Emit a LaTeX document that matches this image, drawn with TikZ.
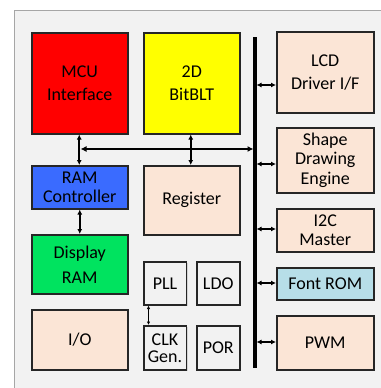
\documentclass[tikz,border=0pt]{standalone}
\usepackage{fontspec}
\setmainfont{Carlito}
\usetikzlibrary{arrows.meta,shadows}
\definecolor{bgf}{HTML}{F2F2F2}
\definecolor{peach}{HTML}{FBE5D6}
\definecolor{mcured}{HTML}{FF0000}
\definecolor{bltyel}{HTML}{FFFF00}
\definecolor{ramblue}{HTML}{3A6BFF}
\definecolor{ramgreen}{HTML}{00E35F}
\definecolor{romblue}{HTML}{B7DEE8}
\tikzset{
  blk/.style={draw=black!85, line width=1.5pt, align=center, inner sep=0pt,
    drop shadow={shadow xshift=1.5pt, shadow yshift=-1.5pt, opacity=0.25}},
  lbl/.style={align=center, inner sep=0pt},
  dbl/.style={{Latex[length=5pt,width=5pt]}-{Latex[length=5pt,width=5pt]}, line width=1.6pt},
  sdbl/.style={{Latex[length=3.5pt,width=3.5pt]}-{Latex[length=3.5pt,width=3.5pt]}, line width=0.9pt}
}
\begin{document}
\begin{tikzpicture}[x=1pt,y=-1pt]
\useasboundingbox (0,0) rectangle (380,388);
\fill[white] (0,0) rectangle (380,388);
\draw[gray!70, fill=bgf, line width=1pt] (14,10) rectangle (400,410);
% boxes
\node[blk, fill=mcured, minimum width=96pt, minimum height=101pt, anchor=north west] (mcu) at (31,32) {};
\node[lbl, font=\fontsize{18}{23}\selectfont] (mcut) at (mcu.center) {MCU\\Interface};
\node[blk, fill=bltyel, minimum width=96pt, minimum height=101pt, anchor=north west] (blt) at (143,32) {};
\node[lbl, font=\fontsize{18}{23}\selectfont] (bltt) at (blt.center) {2D\\BitBLT};
\node[blk, fill=ramblue, minimum width=96pt, minimum height=43pt, anchor=north west] (ramc) at (31,165) {};
\node[lbl, font=\fontsize{18}{19}\selectfont] (ramct) at (ramc.center) {RAM\\Controller};
\node[blk, fill=peach, minimum width=96pt, minimum height=69pt, anchor=north west] (reg) at (143,165) {};
\node[lbl, font=\fontsize{18}{22}\selectfont] (regt) at (reg.center) {Register};
\node[blk, fill=ramgreen, minimum width=96pt, minimum height=59pt, anchor=north west] (dram) at (31,234) {};
\node[lbl, font=\fontsize{18}{25}\selectfont] (dramt) at (dram.center) {Display\\RAM};
\node[blk, fill=peach, minimum width=96pt, minimum height=60pt, anchor=north west] (io) at (31,309) {};
\node[lbl, font=\fontsize{18}{22}\selectfont] (iot) at (io.center) {I/O};
\node[blk, fill=bgf, minimum width=42.5pt, minimum height=43pt, anchor=north west] (pll) at (143,261) {};
\node[lbl, font=\fontsize{18}{22}\selectfont] (pllt) at (pll.center) {PLL};
\node[blk, fill=bgf, minimum width=42.5pt, minimum height=44pt, anchor=north west] (clk) at (143,325) {};
\node[lbl, font=\fontsize{18}{17}\selectfont] (clkt) at (clk.center) {CLK\\Gen.};
\node[blk, fill=bgf, minimum width=43pt, minimum height=43pt, anchor=north west] (ldo) at (196,261) {};
\node[lbl, font=\fontsize{18}{22}\selectfont] (ldot) at (ldo.center) {LDO};
\node[blk, fill=bgf, minimum width=43pt, minimum height=44pt, anchor=north west] (por) at (196,325) {};
\node[lbl, font=\fontsize{18}{22}\selectfont] (port) at (por.center) {POR};
\node[blk, fill=peach, minimum width=97pt, minimum height=81pt, anchor=north west] (lcd) at (276,31) {};
\node[lbl, font=\fontsize{18}{23}\selectfont] (lcdt) at (lcd.center) {LCD\\Driver I/F};
\node[blk, fill=peach, minimum width=97pt, minimum height=65pt, anchor=north west] (shape) at (276,127) {};
\node[lbl, font=\fontsize{18}{19.5}\selectfont] (shapet) at (shape.center) {Shape\\Drawing\\Engine};
\node[blk, fill=peach, minimum width=97pt, minimum height=43pt, anchor=north west] (i2c) at (276,208) {};
\node[lbl, font=\fontsize{18}{19}\selectfont] (i2ct) at (i2c.center) {I2C\\Master};
\node[blk, fill=romblue, minimum width=97pt, minimum height=32pt, anchor=north west] (rom) at (276,267) {};
\node[lbl, font=\fontsize{18}{22}\selectfont] (romt) at (rom.center) {Font ROM};
\node[blk, fill=peach, minimum width=97pt, minimum height=54pt, anchor=north west] (pwm) at (276,315) {};
\node[lbl, font=\fontsize{18}{22}\selectfont] (pwmt) at (pwm.center) {PWM};
% bus
\coordinate (bt) at (255,37);
\coordinate (bb) at (255,368);
\draw[line width=3.2pt] (bt) -- (bb);
% vertical connectors
\draw[dbl] ([xshift=-0.5pt]mcu.south) coordinate (m1) -- (m1 |- ramc.north);
\draw[dbl] ([xshift=-1pt]blt.south) coordinate (b1) -- (b1 |- reg.north);
\draw[dbl] (ramc.south) -- (dram.north);
\coordinate (hl) at (79.5,149);
\coordinate (hr) at (253.5,149);
\draw[{Latex[length=6pt,width=6pt]}-{Latex[length=6pt,width=6pt]}, line width=1.6pt] ([xshift=1pt]hl) -- (hr);
\draw[sdbl] ([xshift=5.5pt]pll.south west) coordinate (p1) -- (p1 |- clk.north);
% bus to peripherals
\foreach \n/\yy in {lcd/85, shape/164, i2c/229, rom/283, pwm/342}{
  \draw[dbl] (256.5,\yy) -- (\n.west |- 0,\yy);
}
\end{tikzpicture}
\end{document}
